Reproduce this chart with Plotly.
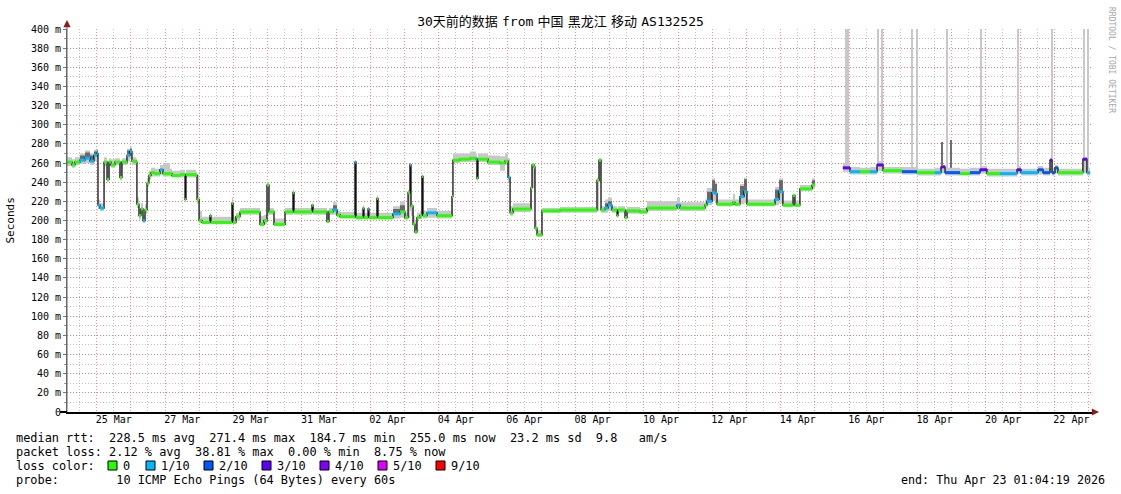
import plotly.graph_objects as go
import pandas as pd

# ---------------- data ----------------
times = [
    "2026-03-24 03:10", "2026-03-24 06:40", "2026-03-24 08:45", "2026-03-24 12:15", "2026-03-24 15:50",
    "2026-03-24 19:20", "2026-03-24 22:05", "2026-03-25 00:15", "2026-03-25 00:55", "2026-03-25 02:20",
    "2026-03-25 05:10", "2026-03-25 07:15", "2026-03-25 08:40", "2026-03-25 10:00", "2026-03-25 12:50",
    "2026-03-25 16:20", "2026-03-25 17:45", "2026-03-25 21:15", "2026-03-25 23:20", "2026-03-26 00:45",
    "2026-03-26 03:35", "2026-03-26 04:15", "2026-03-26 05:40", "2026-03-26 07:05", "2026-03-26 08:30",
    "2026-03-26 09:55", "2026-03-26 11:20", "2026-03-26 12:40", "2026-03-26 14:05", "2026-03-26 16:55",
    "2026-03-26 20:25", "2026-03-26 22:30", "2026-03-27 03:25", "2026-03-27 04:50", "2026-03-27 10:30",
    "2026-03-27 14:00", "2026-03-27 14:40", "2026-03-27 17:30", "2026-03-27 21:40", "2026-03-27 22:25",
    "2026-03-27 23:50", "2026-03-28 01:55", "2026-03-28 07:30", "2026-03-28 08:10", "2026-03-28 22:55",
    "2026-03-28 23:40", "2026-03-29 01:45", "2026-03-29 04:35", "2026-03-29 17:10", "2026-03-29 18:35",
    "2026-03-29 21:25", "2026-03-29 23:30", "2026-03-30 00:55", "2026-03-30 04:25", "2026-03-30 10:00",
    "2026-03-30 12:10", "2026-03-30 17:45", "2026-03-30 18:30", "2026-03-31 07:05", "2026-03-31 07:50",
    "2026-03-31 17:35", "2026-03-31 19:00", "2026-03-31 21:50", "2026-04-01 00:40", "2026-04-01 02:45",
    "2026-04-01 12:35", "2026-04-01 13:15", "2026-04-01 14:00", "2026-04-01 18:55", "2026-04-01 19:35",
    "2026-04-01 22:25", "2026-04-01 23:05", "2026-04-02 04:40", "2026-04-02 05:25", "2026-04-02 15:55",
    "2026-04-02 20:50", "2026-04-03 00:20", "2026-04-03 02:30", "2026-04-03 03:50", "2026-04-03 04:35",
    "2026-04-03 06:00", "2026-04-03 07:20", "2026-04-03 08:45", "2026-04-03 10:50", "2026-04-03 12:15",
    "2026-04-03 13:00", "2026-04-03 15:50", "2026-04-03 22:50", "2026-04-04 09:20", "2026-04-04 10:00",
    "2026-04-04 14:55", "2026-04-04 22:00", "2026-04-05 02:10", "2026-04-05 02:50", "2026-04-05 03:35",
    "2026-04-05 10:35", "2026-04-05 19:00", "2026-04-05 22:30", "2026-04-06 00:40", "2026-04-06 02:05",
    "2026-04-06 04:10", "2026-04-06 16:05", "2026-04-06 16:45", "2026-04-06 17:30", "2026-04-06 18:55",
    "2026-04-06 19:35", "2026-04-06 21:00", "2026-04-07 00:30", "2026-04-07 13:10", "2026-04-08 15:05",
    "2026-04-08 16:30", "2026-04-08 17:55", "2026-04-08 20:40", "2026-04-08 22:50", "2026-04-09 01:35",
    "2026-04-09 05:10", "2026-04-09 05:50", "2026-04-09 10:45", "2026-04-09 12:10", "2026-04-09 21:15",
    "2026-04-10 02:10", "2026-04-10 23:15", "2026-04-11 01:20", "2026-04-11 18:55", "2026-04-11 20:15",
    "2026-04-11 23:50", "2026-04-12 01:55", "2026-04-12 03:20", "2026-04-12 14:30", "2026-04-12 15:55",
    "2026-04-12 19:25", "2026-04-12 22:15", "2026-04-13 00:20", "2026-04-13 20:00", "2026-04-13 22:50",
    "2026-04-14 01:35", "2026-04-14 08:40", "2026-04-14 10:00", "2026-04-14 13:30", "2026-04-14 22:00",
    "2026-04-15 00:05", "2026-04-15 00:06",
    "2026-04-15 19:40", "2026-04-16 00:40", "2026-04-16 07:40", "2026-04-16 14:40", "2026-04-16 19:35",
    "2026-04-16 23:50", "2026-04-17 13:10", "2026-04-17 23:40", "2026-04-18 12:15", "2026-04-18 16:30",
    "2026-04-18 19:20", "2026-04-19 05:50", "2026-04-19 12:50", "2026-04-19 19:55", "2026-04-20 00:45",
    "2026-04-20 09:55", "2026-04-20 21:50", "2026-04-21 00:40", "2026-04-21 12:35", "2026-04-21 16:05",
    "2026-04-21 21:00", "2026-04-21 22:25", "2026-04-22 00:30", "2026-04-22 02:35", "2026-04-22 20:05",
    "2026-04-22 22:55", "2026-04-23 01:05",
]
median_ms = [
    261, 258, 261, 263, 265, 262, 268, 270, 216, 213,
    261, 243, 261, 258, 261, 245, 261, 268, 272, 262,
    261, 217, 205, 212, 200, 211, 239, 247, 250, 249,
    253, 249, 249, 247, 248, 222, 248, 248, 247, 222,
    200, 198, 205, 198, 218, 198, 204, 209, 209, 196,
    200, 237, 209, 196, 196, 209, 229, 209, 216, 209,
    199, 209, 211, 206, 204, 204, 261, 203, 213, 203,
    212, 203, 223, 203, 207, 209, 203, 229, 258, 215,
    196, 188, 203, 205, 246, 205, 208, 205, 225, 263,
    264, 265, 264, 244, 264, 261, 260, 262, 245, 208,
    212, 212, 234, 258, 256, 192, 185, 210, 211, 242,
    263, 211, 213, 216, 211, 205, 211, 203, 210, 209,
    213, 216, 213, 216, 220, 229, 228, 217, 219, 217,
    225, 230, 217, 222, 230, 216, 226, 216, 233, 237,
    237, None,
    255, 251, 251, 251, 258, 252, 251, 250, 250, 256,
    250, 249, 250, 253, 249, 249, 253, 250, 253, 250,
    263, 250, 255, 250, 264, 250, 250,
]
smoke_lo_ms = [
    257, 255, 258, 259, 260, 258, 262, 265, 212, 210,
    257, 240, 257, 255, 258, 242, 258, 262, 265, 258,
    258, 213, 201, 207, 197, 207, 235, 243, 246, 246,
    248, 246, 246, 245, 245, 219, 245, 245, 244, 218,
    197, 196, 200, 196, 198, 196, 200, 206, 206, 194,
    196, 205, 206, 194, 194, 206, 208, 206, 208, 206,
    197, 206, 206, 203, 202, 202, 204, 201, 203, 201,
    203, 201, 203, 201, 202, 203, 201, 203, 210, 205,
    194, 186, 201, 202, 205, 202, 203, 202, 204, 260,
    261, 261, 261, 241, 261, 258, 252, 258, 240, 205,
    209, 209, 212, 234, 230, 190, 183, 208, 208, 210,
    240, 208, 208, 210, 208, 203, 208, 201, 207, 207,
    210, 212, 210, 214, 216, 220, 218, 215, 216, 215,
    217, 218, 215, 216, 218, 214, 216, 214, 231, 233,
    233, None,
    251, 248, 248, 248, 252, 249, 248, 247, 247, 249,
    247, 247, 247, 249, 246, 246, 249, 247, 248, 247,
    250, 247, 249, 247, 250, 247, 247,
]
smoke_hi_ms = [
    266, 264, 266, 270, 273, 270, 274, 275, 222, 218,
    266, 262, 265, 264, 265, 262, 265, 275, 277, 266,
    265, 224, 212, 218, 206, 217, 244, 252, 255, 254,
    258, 260, 254, 252, 253, 250, 253, 253, 251, 248,
    210, 204, 208, 204, 224, 204, 208, 213, 213, 205,
    206, 240, 213, 202, 202, 213, 232, 213, 218, 213,
    210, 213, 219, 210, 209, 209, 263, 208, 216, 208,
    214, 208, 226, 208, 215, 220, 208, 232, 260, 218,
    205, 200, 208, 210, 248, 210, 213, 210, 228, 270,
    270, 272, 270, 266, 270, 268, 267, 270, 265, 215,
    218, 218, 236, 260, 258, 200, 190, 213, 214, 245,
    265, 215, 222, 224, 215, 211, 215, 209, 214, 213,
    220, 224, 219, 222, 234, 244, 240, 222, 228, 222,
    238, 245, 222, 235, 244, 221, 228, 221, 237, 244,
    244, None,
    260, 256, 255, 256, 262, 256, 256, 254, 255, 258,
    255, 254, 255, 257, 254, 254, 257, 254, 257, 255,
    265, 255, 258, 254, 266, 255, 255,
]
loss_tenths = [
    0, 0, 0, 1, 1, 1, 1, 1, 1, 1,
    0, 0, 0, 0, 0, 0, 0, 1, 1, 0,
    0, 0, 0, 0, 1, 0, 0, 0, 0, 0,
    1, 0, 0, 0, 0, 0, 0, 0, 0, 0,
    0, 0, 0, 0, 0, 0, 0, 0, 0, 0,
    0, 0, 0, 0, 0, 0, 0, 0, 0, 0,
    0, 0, 1, 0, 0, 0, 1, 0, 0, 0,
    1, 0, 0, 0, 1, 0, 0, 0, 1, 0,
    0, 0, 0, 0, 0, 0, 1, 0, 0, 0,
    0, 0, 1, 0, 0, 0, 0, 0, 1, 0,
    0, 0, 0, 0, 0, 0, 0, 0, 0, 0,
    0, 0, 1, 1, 0, 0, 0, 0, 0, 0,
    0, 1, 0, 0, 1, 1, 1, 0, 0, 0,
    1, 1, 0, 1, 1, 0, 0, 0, 0, 0,
    0, None,
    3, 1, 0, 1, 3, 0, 2, 0, 1, 3,
    2, 0, 2, 3, 0, 1, 3, 1, 2, 2,
    3, 2, 2, 0, 3, 1, 1,
]

# darker (denser) smoke above the median during the busy periods
dark_smoke_times = ["2026-03-24 12:15", "2026-03-24 15:50", "2026-03-24 19:20", "2026-03-24 22:05",
                    "2026-03-25 00:15", "2026-03-25 21:15", "2026-03-25 23:20", "2026-03-31 21:50",
                    "2026-04-02 15:55", "2026-04-02 20:50", "2026-04-08 20:40", "2026-04-08 22:50",
                    "2026-04-11 20:15", "2026-04-11 23:50", "2026-04-12 01:55", "2026-04-12 19:25",
                    "2026-04-12 22:15", "2026-04-13 20:00", "2026-04-13 22:50", "2026-04-14 22:00"]
dark_smoke_top_ms = [268, 271, 268, 272, 273, 273, 275, 216,
                     212, 216, 218, 220, 230, 242, 238, 236,
                     243, 232, 242, 242]

# smoke columns that exceed the top of the graph
spike_times = ["2026-04-15 22:30", "2026-04-16 20:15", "2026-04-16 23:05", "2026-04-17 20:10",
               "2026-04-17 23:20", "2026-04-18 20:40", "2026-04-19 20:35", "2026-04-20 22:30",
               "2026-04-21 22:25", "2026-04-22 20:50", "2026-04-23 00:00"]
spike_hours = [3.0, 0.7, 0.7, 0.7, 0.7, 0.7, 0.7, 1.6, 0.7, 0.7, 0.7]
spike_base_ms = [252, 252, 252, 250, 250, 250, 250, 250, 250, 250, 250]
dark_spike_times = ["2026-04-18 17:10", "2026-04-18 23:30"]
dark_spike_top_ms = [282, 284]

loss_levels = [0, 1, 2, 3, 4, 5, 9]
loss_labels = ["0", "1/10", "2/10", "3/10", "4/10", "5/10", "9/10"]
loss_colors = ["#26ff00", "#00b8ff", "#0059ff", "#5e00ff", "#7e00ff", "#dd00ff", "#ff0000"]

y_ticks_ms = list(range(0, 401, 20))
x_label_days = ["2026-03-25", "2026-03-27", "2026-03-29", "2026-03-31", "2026-04-02", "2026-04-04",
                "2026-04-06", "2026-04-08", "2026-04-10", "2026-04-12", "2026-04-14", "2026-04-16",
                "2026-04-18", "2026-04-20", "2026-04-22"]

title_parts = ["30天前的数据", "from", "中国", "黑龙江", "移动", "AS132525"]
stats_line1 = "median rtt:  228.5 ms avg  271.4 ms max  184.7 ms min  255.0 ms now  23.2 ms sd  9.8   am/s"
stats_line2 = "packet loss: 2.12 % avg  38.81 % max  0.00 % min  8.75 % now"
stats_line4 = "probe:        10 ICMP Echo Pings (64 Bytes) every 60s"
end_text = "end: Thu Apr 23 01:04:19 2026"

x_start = "2026-03-24 03:10"
x_end = "2026-04-23 03:10"

# ---------------- figure ----------------
W, H = 1121, 494
L, R, T, B = 67, 28, 29, 82
PW, PH = W - L - R, H - T - B
MONO = "DejaVu Sans Mono"

ts = pd.to_datetime(times)
dark_map = dict(zip(pd.to_datetime(dark_smoke_times), dark_smoke_top_ms))


def px(x):
    return (x - L) / PW


def py(y):
    return (H - B - y) / PH


fig = go.Figure()

# smoke, segment by segment
segments, cur = [], []
for i, m in enumerate(median_ms):
    if m is None:
        if cur:
            segments.append(cur)
        cur = []
    else:
        cur.append(i)
if cur:
    segments.append(cur)

for seg in segments:
    xs = [ts[i] for i in seg]
    fig.add_trace(go.Scatter(x=xs, y=[smoke_lo_ms[i] / 1000 for i in seg], mode="lines",
                             line=dict(width=0, shape="hv"), hoverinfo="skip", showlegend=False))
    fig.add_trace(go.Scatter(x=xs, y=[smoke_hi_ms[i] / 1000 for i in seg], mode="lines",
                             line=dict(width=0, shape="hv"), fill="tonexty",
                             fillcolor="rgb(200,200,200)", hoverinfo="skip", showlegend=False))
    # dense smoke band
    fig.add_trace(go.Scatter(x=xs, y=[median_ms[i] / 1000 for i in seg], mode="lines",
                             line=dict(width=0, shape="hv"), hoverinfo="skip", showlegend=False))
    fig.add_trace(go.Scatter(x=xs, y=[dark_map.get(ts[i], median_ms[i]) / 1000 for i in seg], mode="lines",
                             line=dict(width=0, shape="hv"), fill="tonexty",
                             fillcolor="rgb(105,105,105)", hoverinfo="skip", showlegend=False))

# tall smoke columns
fig.add_trace(go.Bar(x=pd.to_datetime(spike_times), y=[0.45 - b / 1000 for b in spike_base_ms],
                     base=[b / 1000 for b in spike_base_ms],
                     width=[h * 3600000 for h in spike_hours],
                     marker=dict(color="rgb(200,200,200)", line=dict(width=0)),
                     hoverinfo="skip", showlegend=False))
fig.add_trace(go.Bar(x=pd.to_datetime(dark_spike_times), y=[(t - 250) / 1000 for t in dark_spike_top_ms],
                     base=[0.25] * len(dark_spike_times), width=[0.45 * 3600000] * len(dark_spike_times),
                     marker=dict(color="rgb(110,110,110)", line=dict(width=0)),
                     hoverinfo="skip", showlegend=False))

# median, black connecting line
fig.add_trace(go.Scatter(x=ts, y=[m / 1000 if m is not None else None for m in median_ms],
                         mode="lines", line=dict(color="#111111", width=1.3, shape="hv"),
                         connectgaps=False, hoverinfo="skip", showlegend=False))

# median coloured by loss
for lvl, col in zip(loss_levels, loss_colors):
    xs, ys = [], []
    for i in range(len(median_ms) - 1):
        if median_ms[i] is None or median_ms[i + 1] is None:
            continue
        if loss_tenths[i] != lvl:
            continue
        xs += [ts[i], ts[i + 1], None]
        ys += [median_ms[i] / 1000, median_ms[i] / 1000, None]
    if xs:
        fig.add_trace(go.Scatter(x=xs, y=ys, mode="lines", line=dict(color=col, width=3),
                                 hoverinfo="skip", showlegend=False))

# empty trace that only carries the label axis
fig.add_trace(go.Scatter(x=[x_start], y=[None], xaxis="x2", mode="lines",
                         hoverinfo="skip", showlegend=False))

grid_major = "rgba(240,110,110,0.75)"
grid_minor = "rgba(175,175,175,0.75)"

sp = '<span style="font-size:7px"> </span>'
title_text = sp.join(title_parts)

fig.update_layout(
    width=W, height=H, margin=dict(l=L, r=R, t=T, b=B, autoexpand=False),
    paper_bgcolor="white", plot_bgcolor="white", barmode="overlay", bargap=0,
    font=dict(family=MONO, size=10, color="#000"),
    xaxis=dict(type="date", range=[x_start, x_end], showticklabels=False,
               tick0="2026-03-24 00:00", dtick=86400000, ticks="",
               showgrid=True, gridcolor=grid_major, griddash="1px,2px", gridwidth=1,
               minor=dict(tick0="2026-03-24 00:00", dtick=43200000, showgrid=True,
                          gridcolor=grid_minor, griddash="1px,2px", gridwidth=1),
               showline=True, linecolor="#000", linewidth=2, zeroline=False, fixedrange=True),
    xaxis2=dict(type="date", range=[x_start, x_end], overlaying="x", anchor="y", side="bottom",
                tickmode="array", tickvals=[pd.Timestamp(d) + pd.Timedelta(hours=12) for d in x_label_days],
                ticktext=[pd.Timestamp(d).strftime("%d %b") for d in x_label_days],
                showgrid=False, ticks="", tickfont=dict(family=MONO, size=10, color="#000"),
                showline=False, zeroline=False, fixedrange=True),
    yaxis=dict(range=[0, 0.4], tickmode="array", tickvals=[v / 1000 for v in y_ticks_ms],
               ticktext=[("%d m" % v) if v else "0" for v in y_ticks_ms],
               tickfont=dict(family=MONO, size=10, color="#000"), ticks="outside", ticklen=3,
               tickcolor="#777", showgrid=True, gridcolor=grid_major, griddash="1px,2px",
               minor=dict(dtick=0.01, tick0=0, showgrid=True, gridcolor=grid_minor,
                          griddash="1px,2px", ticks="outside", ticklen=2, tickcolor="#999"),
               showline=True, linecolor="#666", linewidth=1, zeroline=False, fixedrange=True),
    title=dict(text=title_text, x=0.5, xref="container", xanchor="center",
               y=1 - 21 / H, yref="container", yanchor="middle",
               font=dict(family=MONO + ", Noto Sans CJK SC", size=13, color="#000")),
)

# y-axis title
fig.add_annotation(text="Seconds", x=px(10), y=0.5, xref="paper", yref="paper", textangle=-90,
                   xanchor="center", yanchor="middle",
                   showarrow=False, font=dict(family=MONO, size=11, color="#000"))
# watermark
fig.add_annotation(text="RRDTOOL / TOBI OETIKER", x=px(1111), y=py(60), xref="paper", yref="paper",
                   xanchor="center", yanchor="middle",
                   textangle=90, showarrow=False, font=dict(family=MONO, size=8, color="#a8a8a8"))

# axis arrows and bottom line extension
fig.add_shape(type="line", x0=0, x1=0, y0=0, y1=py(24), xref="paper", yref="paper",
              line=dict(color="#666", width=1))
fig.add_shape(type="line", x0=px(60), x1=0, y0=0, y1=0, xref="paper", yref="paper",
              line=dict(color="#000", width=2))
fig.add_annotation(x=0, y=py(20), xref="paper", yref="paper", ax=0, ay=6, axref="pixel", ayref="pixel",
                   showarrow=True, arrowhead=2, arrowsize=1.2, arrowwidth=1.2, arrowcolor="#8b1a1a", text="")
fig.add_annotation(x=px(1099), y=0, xref="paper", yref="paper", ax=-6, ay=0, showarrow=True,
                   arrowhead=2, arrowsize=1.2, arrowwidth=1.2, arrowcolor="#8b1a1a", text="")

# legend / stats lines
for txt, yy in [(stats_line1, 438), (stats_line2, 452), ("loss color:", 466), (stats_line4, 480)]:
    fig.add_annotation(text=txt.replace(" ", "\u00a0"), x=px(14), y=py(yy), xref="paper", yref="paper",
                       xanchor="left", yanchor="middle", showarrow=False,
                       font=dict(family=MONO, size=11.9, color="#000"))
fig.add_annotation(text=end_text, x=px(1107), y=py(480), xref="paper", yref="paper",
                   xanchor="right", yanchor="middle", showarrow=False,
                   font=dict(family=MONO, size=11.7, color="#000"))

box_x = [108, 146, 204, 262, 320, 378, 436]
for bx, lab, col in zip(box_x, loss_labels, loss_colors):
    fig.add_shape(type="rect", x0=px(bx), x1=px(bx + 9), y0=py(470), y1=py(461), xref="paper",
                  yref="paper", fillcolor=col, line=dict(color="#000", width=1))
    fig.add_annotation(text=lab, x=px(bx + 13), y=py(466), xref="paper", yref="paper",
                       xanchor="left", yanchor="middle", showarrow=False,
                       font=dict(family=MONO, size=11.9, color="#000"))

fig.write_html("out.html", post_script="document.body.style.margin='0';",
               config={"displayModeBar": False})
